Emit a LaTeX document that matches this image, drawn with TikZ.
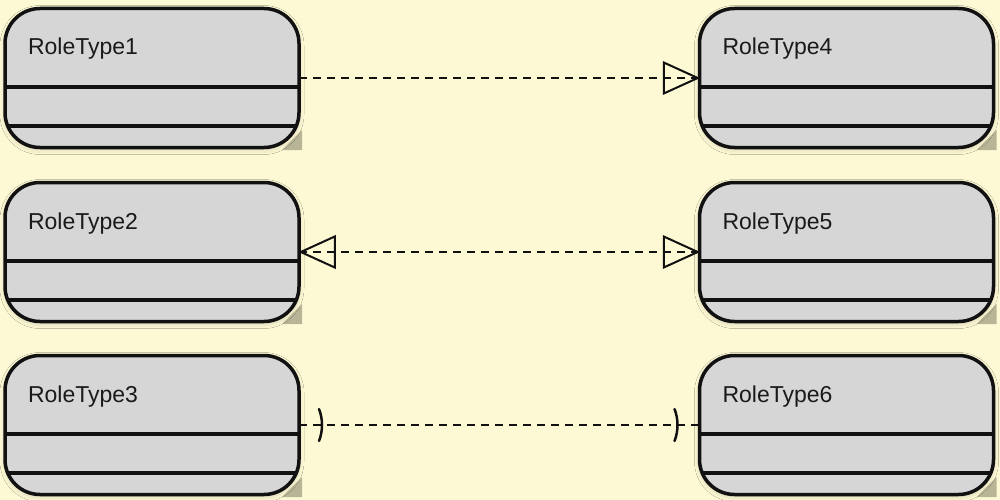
\documentclass[tikz,border=0pt]{standalone}
\usepackage{fontspec}
\setmainfont{Liberation Sans}
\usetikzlibrary{shadows.blur}
\definecolor{bg}{HTML}{FEF9D5}
\definecolor{nodefill}{HTML}{D6D6D6}
\definecolor{edgecol}{HTML}{111111}
\definecolor{foldcol}{HTML}{B8B596}
\definecolor{textcol}{HTML}{1A1A1A}
\tikzset{
  rolebox/.style={rectangle, draw=edgecol, line width=3.5pt, fill=nodefill,
    rounded corners=35pt, minimum width=294pt, minimum height=139pt,
    inner sep=0pt, outer sep=0pt,
    blur shadow={shadow xshift=0pt, shadow yshift=-2pt, shadow blur radius=5pt, shadow opacity=20}},
  rolelabel/.style={inner sep=0pt, outer sep=0pt, text=textcol, font=\fontsize{23}{27}\selectfont},
  compline/.style={draw=edgecol, line width=3.5pt},
  fold/.style={fill=foldcol},
  conn/.style={draw=edgecol, line width=1.8pt, dash pattern=on 8pt off 6pt},
  tri/.style={draw=edgecol, solid, line width=2pt, line join=miter},
  bar/.style={draw=edgecol, solid, line width=2.5pt, line cap=round},
}
\newcommand\roletype[4]{%
  \fill[fold] ({#2+150},{#3+52}) -- ({#2+150},{#3+72}) -- ({#2+130},{#3+72}) -- cycle;
  \node[rolebox] (#1) at (#2,#3) {};
  \begin{scope}
    \clip[rounded corners=35pt] (#1.north west) rectangle (#1.south east);
    \draw[compline] ({#2-160},{#3+9}) -- ({#2+160},{#3+9});
    \draw[compline] ({#2-160},{#3+48}) -- ({#2+160},{#3+48});
  \end{scope}
  \node[rolelabel, anchor=base west] (#1t) at ({#2-124},{#3-23}) {#4};
}
\begin{document}
\begin{tikzpicture}[x=1pt, y=-1pt]
  \fill[bg] (0,0) rectangle (1000,500);
  \useasboundingbox (0,0) rectangle (1000,500);

  \roletype{r1}{152}{78}{RoleType1}
  \roletype{r2}{152}{252}{RoleType2}
  \roletype{r3}{152}{425}{RoleType3}
  \roletype{r4}{846.5}{78}{RoleType4}
  \roletype{r5}{846.5}{252}{RoleType5}
  \roletype{r6}{846.5}{425}{RoleType6}

  % row 1
  \draw[conn] (r1.east) -- (r4.west);
  \draw[tri] ([xshift=-1.75pt]r4.west) -- ++(-34,-15.5) -- ++(0,31) -- cycle;

  % row 2
  \draw[conn] (r2.east) -- (r5.west);
  \draw[tri] ([xshift=1.75pt]r2.east) -- ++(34,-15.5) -- ++(0,31) -- cycle;
  \draw[tri] ([xshift=-1.75pt]r5.west) -- ++(-34,-15.5) -- ++(0,31) -- cycle;

  % row 3
  \draw[conn] (r3.east) -- (r6.west);
  \draw[bar] ([shift={(20,-16)}]r3.east) .. controls +(4,10) and +(4,-10) .. ([shift={(20,16)}]r3.east);
  \draw[bar] ([shift={(-25,-16)}]r6.west) .. controls +(4,10) and +(4,-10) .. ([shift={(-25,16)}]r6.west);
\end{tikzpicture}
\end{document}
